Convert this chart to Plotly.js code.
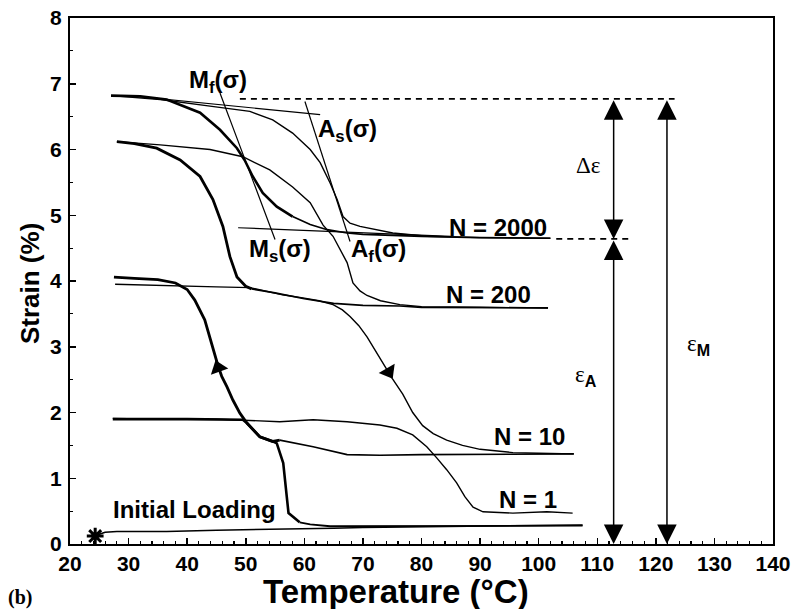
<!DOCTYPE html>
<html>
<head>
<meta charset="utf-8">
<script src="https://cdn.plot.ly/plotly-3.0.1.min.js"></script>
<style>html,body{margin:0;padding:0;background:#fff;}#chart{width:795px;height:609px;}</style>
</head>
<body>
<div id="chart"></div>
<script>
// ---- Data (temperature °C, strain %) ----
const initT = [24.3, 25, 26, 28, 32, 36.5, 45, 55, 60, 65, 70, 80, 90, 100, 107.5];
const initS = [0.10, 0.15, 0.18, 0.19, 0.19, 0.19, 0.21, 0.22, 0.23, 0.24, 0.25, 0.26, 0.27, 0.28, 0.29];

const n1CoolT = [107.5, 100, 90, 80, 70, 64.4, 61, 59.2, 58.1, 57.3, 57.0, 56.7, 56.4, 55.3, 54.6, 52.4, 50.2, 49.5, 45, 40, 35, 30, 27.3];
const n1CoolS = [0.28, 0.28, 0.27, 0.27, 0.27, 0.27, 0.30, 0.33, 0.42, 0.47, 0.72, 0.97, 1.23, 1.53, 1.56, 1.63, 1.84, 1.89, 1.90, 1.90, 1.90, 1.90, 1.90];
const n1HeatT = [27.3, 35, 45, 55.8, 61.5, 67.3, 72.9, 75.8, 78.5, 80.9, 82.6, 84.3, 86, 87.4, 88.8, 90.5, 95.6, 101.4, 105.8];
const n1HeatS = [1.91, 1.90, 1.90, 1.86, 1.89, 1.86, 1.81, 1.76, 1.66, 1.48, 1.31, 1.13, 0.93, 0.72, 0.56, 0.49, 0.47, 0.49, 0.47];

const n10CoolT = [106, 100, 90, 80, 72.9, 67.3, 61.5, 55.8, 54.6, 52.4, 50.2, 49, 47.8, 46.8, 45.9, 45.3, 44.2, 43, 41.3, 40, 38, 35, 31, 27.5];
const n10CoolS = [1.37, 1.37, 1.36, 1.36, 1.35, 1.36, 1.48, 1.58, 1.56, 1.63, 1.84, 1.99, 2.19, 2.39, 2.55, 2.70, 3.03, 3.41, 3.71, 3.87, 3.97, 4.02, 4.04, 4.06];
const n10HeatT = [27.7, 35, 40, 45, 50.7, 56.3, 60, 62.5, 64.9, 66.5, 67.8, 69.3, 70.7, 72, 73.4, 75, 76.8, 78.5, 80.2, 82, 84.3, 87, 90, 95.6, 100, 106];
const n10HeatS = [3.95, 3.93, 3.92, 3.91, 3.90, 3.79, 3.74, 3.70, 3.64, 3.56, 3.46, 3.32, 3.15, 2.96, 2.75, 2.52, 2.28, 2.00, 1.80, 1.68, 1.58, 1.50, 1.44, 1.39, 1.38, 1.37];

const n200CoolT = [101.6, 95, 90, 80, 76.3, 70, 65, 60, 55, 51, 50, 48.5, 47.3, 46.1, 44.4, 42.2, 38.8, 34.8, 31, 28];
const n200CoolS = [3.59, 3.59, 3.60, 3.60, 3.62, 3.63, 3.66, 3.73, 3.82, 3.88, 3.92, 4.06, 4.37, 4.83, 5.24, 5.59, 5.84, 6.02, 6.09, 6.12];
const n200HeatT = [28, 35.4, 43.9, 49.5, 54.1, 58, 61, 63.2, 64.9, 66, 67.3, 68.3, 69.5, 70.7, 73, 76.3, 80, 90, 101.6];
const n200HeatS = [6.12, 6.07, 6.00, 5.89, 5.69, 5.43, 5.19, 4.85, 4.68, 4.50, 4.28, 3.97, 3.85, 3.78, 3.70, 3.64, 3.61, 3.60, 3.59];

const n2000CoolT = [102, 90, 80, 70, 67.3, 63.9, 61, 58, 55.3, 52.9, 51.2, 49.8, 48.5, 45.6, 42.2, 36.5, 32, 27];
const n2000CoolS = [4.65, 4.66, 4.68, 4.71, 4.73, 4.78, 4.86, 4.98, 5.13, 5.34, 5.59, 5.84, 6.02, 6.30, 6.56, 6.76, 6.81, 6.82];
const n2000HeatT = [27, 35.4, 43.9, 50.7, 54.6, 58, 61, 62.7, 64.4, 65.6, 66.6, 67.8, 69.5, 75.1, 80.9, 90, 102];
const n2000HeatS = [6.82, 6.76, 6.66, 6.58, 6.45, 6.25, 6.00, 5.80, 5.49, 5.24, 4.98, 4.88, 4.83, 4.73, 4.68, 4.66, 4.65];

// tangent construction lines
const tanTopT = [30, 62.7],  tanTopS = [6.82, 6.53];
const tanMfT  = [45.6, 55],  tanMfS  = [6.86, 4.63];
const tanAsT  = [60.1, 67.8], tanAsS = [6.73, 4.60];
const tanBotT = [48.7, 85],  tanBotS = [4.81, 4.68];
const dashTopT = [49, 123.2], dashTopS = [6.77, 6.77];
const dashBotT = [103, 116],  dashBotS = [4.64, 4.64];

// dimension arrows
const arrowX1 = 112.8, arrowX2 = 121.9;
const strainMax = 6.77, strainMid = 4.64, strainMin = 0.0;

// loop direction arrows & start marker
const upArrowT = [45.3], upArrowS = [2.68];
const downArrowT = [74.4], downArrowS = [2.62];
const startT = [24.3], startS = [0.12];

// text labels
const labels = [
  {t: 93.0, s: 4.81, text: '<b>N = 2000</b>'},
  {t: 91.4, s: 3.79, text: '<b>N = 200</b>'},
  {t: 98.5, s: 1.63, text: '<b>N = 10</b>'},
  {t: 98.2, s: 0.67, text: '<b>N = 1</b>'},
  {t: 41.2, s: 0.53, text: '<b>Initial Loading</b>'},
  {t: 45.3, s: 7.03, text: '<b>M<sub>f</sub>(σ)</b>'},
  {t: 67.3, s: 6.29, text: '<b>A<sub>s</sub>(σ)</b>'},
  {t: 55.8, s: 4.47, text: '<b>M<sub>s</sub>(σ)</b>'},
  {t: 72.7, s: 4.47, text: '<b>A<sub>f</sub>(σ)</b>'}
];

const SANS = 'Liberation Sans, Arial, Helvetica, sans-serif';
const SERIF = 'Liberation Serif, Times New Roman, serif';

function line(x, y, w, dash) {
  return {x: x, y: y, type: 'scatter', mode: 'lines', hoverinfo: 'skip',
          line: {color: '#000', width: w, dash: dash || 'solid'}, showlegend: false};
}
// cooling branches: flat high-temperature part drawn thinner, transformation part thick
function split(x, y, k, wThin, wThick) {
  return [line(x.slice(0, k + 1), y.slice(0, k + 1), wThin), line(x.slice(k), y.slice(k), wThick)];
}

const traces = [
  line(initT, initS, 1.6),
  ...split(n1CoolT, n1CoolS, 7, 1.8, 2.6),
  line(n1HeatT, n1HeatS, 1.4),
  ...split(n10CoolT, n10CoolS, 7, 1.6, 2.8),
  line(n10HeatT, n10HeatS, 1.4),
  ...split(n200CoolT, n200CoolS, 9, 1.7, 2.8),
  line(n200HeatT, n200HeatS, 1.4),
  ...split(n2000CoolT, n2000CoolS, 7, 1.7, 2.6),
  line(n2000HeatT, n2000HeatS, 1.4),
  line(tanTopT, tanTopS, 1.2),
  line(tanMfT, tanMfS, 1.2),
  line(tanAsT, tanAsS, 1.2),
  line(tanBotT, tanBotS, 1.2),
  line(dashTopT, dashTopS, 1.6, '6px,5px'),
  line(dashBotT, dashBotS, 1.6, '6px,5px'),
  {x: upArrowT, y: upArrowS, type: 'scatter', mode: 'markers', showlegend: false, hoverinfo: 'skip',
   marker: {symbol: 'triangle-up', size: 16, color: '#000', angle: -20}},
  {x: downArrowT, y: downArrowS, type: 'scatter', mode: 'markers', showlegend: false, hoverinfo: 'skip',
   marker: {symbol: 'triangle-down', size: 16, color: '#000', angle: -30}},
  {x: startT, y: startS, type: 'scatter', mode: 'markers', showlegend: false, hoverinfo: 'skip',
   marker: {symbol: 'asterisk-open', size: 14, color: '#000', line: {color: '#000', width: 3}}}
];

function dimArrow(x, y0, y1) {
  return {x: x, y: y1, ax: x, ay: y0, xref: 'x', yref: 'y', axref: 'x', ayref: 'y',
          text: '', showarrow: true, arrowhead: 2, startarrowhead: 2, arrowside: 'end+start',
          arrowsize: 2.6, startarrowsize: 2.6, arrowwidth: 1.5, arrowcolor: '#000', standoff: 0, startstandoff: 0};
}

const annotations = [
  dimArrow(arrowX1, strainMax, strainMid),
  dimArrow(arrowX1, strainMid, strainMin),
  dimArrow(arrowX2, strainMax, strainMin),
  {x: 108.4, y: 5.75, xref: 'x', yref: 'y', text: 'Δε', showarrow: false,
   font: {family: SERIF, size: 23, color: '#000'}},
  {x: 108.0, y: 2.55, xref: 'x', yref: 'y', text: 'ε<sub><b><span style="font-family:Liberation Sans">A</span></b></sub>', showarrow: false,
   font: {family: SERIF, size: 23, color: '#000'}},
  {x: 127.2, y: 3.03, xref: 'x', yref: 'y', text: 'ε<sub><b><span style="font-family:Liberation Sans">M</span></b></sub>', showarrow: false,
   font: {family: SERIF, size: 23, color: '#000'}},
  {x: 0.464, y: -0.091, xref: 'paper', yref: 'paper', xanchor: 'center', yanchor: 'middle',
   text: '<b>Temperature (°C)</b>', showarrow: false,
   font: {family: SANS, size: 33, color: '#000'}},
  {x: -0.057, y: 0.496, xref: 'paper', yref: 'paper', xanchor: 'center', yanchor: 'middle',
   text: '<b>Strain (%)</b>', showarrow: false, textangle: -90,
   font: {family: SANS, size: 26, color: '#000'}},
  {x: -0.071, y: -0.101, xref: 'paper', yref: 'paper', xanchor: 'center', yanchor: 'middle',
   text: '<b>(b)</b>', showarrow: false,
   font: {family: SERIF, size: 20, color: '#000'}}
].concat(labels.map(l => ({x: l.t, y: l.s, xref: 'x', yref: 'y', text: l.text, showarrow: false,
   font: {family: SANS, size: 24, color: '#000'}})));

const layout = {
  width: 795, height: 609,
  margin: {l: 70, r: 22, t: 18, b: 65, pad: 0},
  paper_bgcolor: '#fff', plot_bgcolor: '#fff',
  showlegend: false,
  xaxis: {range: [20, 140], autorange: false, tickvals: [20,30,40,50,60,70,80,90,100,110,120,130,140],
          ticks: 'inside', ticklen: 6, tickwidth: 1.5, tickcolor: '#000',
          minor: {dtick: 2, tick0: 20, ticks: 'inside', ticklen: 3, tickwidth: 1.2, tickcolor: '#000'},
          showline: true, linecolor: '#000', linewidth: 2, mirror: true, showgrid: false, zeroline: false,
          tickfont: {family: SANS, size: 21, color: '#000', weight: 'bold'}, ticklabelstandoff: 0},
  yaxis: {range: [0, 8], autorange: false, tickvals: [0,1,2,3,4,5,6,7,8],
          ticks: 'inside', ticklen: 6, tickwidth: 1.5, tickcolor: '#000',
          minor: {dtick: 0.5, tick0: 0, ticks: 'inside', ticklen: 3, tickwidth: 1.2, tickcolor: '#000'},
          showline: true, linecolor: '#000', linewidth: 2, mirror: true, showgrid: false, zeroline: false,
          tickfont: {family: SANS, size: 21, color: '#000', weight: 'bold'}, ticklabelstandoff: 2},
  annotations: annotations
};

Plotly.newPlot('chart', traces, layout, {staticPlot: true, displayModeBar: false});
</script>
</body>
</html>
